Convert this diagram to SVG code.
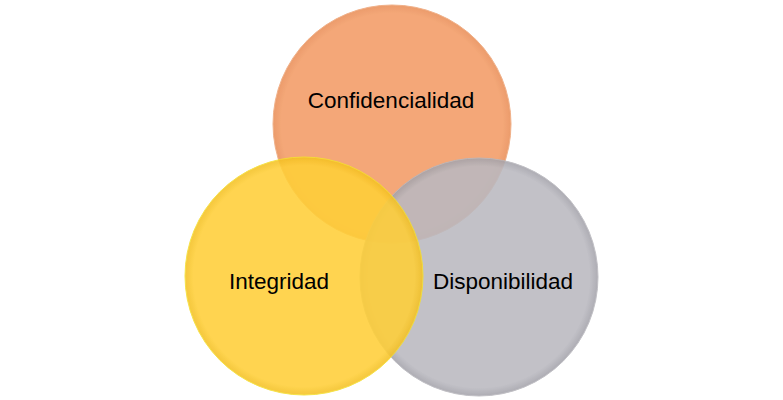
<svg xmlns="http://www.w3.org/2000/svg" width="783" height="400" viewBox="0 0 783 400">
<defs>
<style>
.lbl{font-family:"Liberation Sans",Arial,sans-serif;font-size:22.5px;fill:#000;text-anchor:middle}
.c{opacity:0.88}
</style>
<radialGradient id="gO" cx="0.5" cy="0.5" r="0.5">
<stop offset="0.93" stop-color="#F39C66"/>
<stop offset="1" stop-color="#E98E58"/>
</radialGradient>
<radialGradient id="gG" cx="0.5" cy="0.5" r="0.5">
<stop offset="0.93" stop-color="#BAB9C0"/>
<stop offset="1" stop-color="#A3A2AA"/>
</radialGradient>
<radialGradient id="gY" cx="0.5" cy="0.5" r="0.5">
<stop offset="0.93" stop-color="#FFCF38"/>
<stop offset="1" stop-color="#F4C022"/>
</radialGradient>
</defs>
<rect width="783" height="400" fill="#fff"/>
<g id="confidencialidad">
<circle class="c" cx="392" cy="124" r="119" fill="url(#gO)" stroke="#EFA77A" stroke-width="1"/>
</g>
<g id="disponibilidad">
<circle class="c" cx="479" cy="277" r="119" fill="url(#gG)" stroke="#B9B8BE" stroke-width="1"/>
</g>
<g id="integridad">
<circle class="c" cx="304" cy="276" r="119" fill="url(#gY)" stroke="#F5E030" stroke-width="1"/>
</g>
<g id="labels">
<text class="lbl" x="391" y="108">Confidencialidad</text>
<text class="lbl" x="279" y="289">Integridad</text>
<text class="lbl" x="503" y="289">Disponibilidad</text>
</g>
</svg>
